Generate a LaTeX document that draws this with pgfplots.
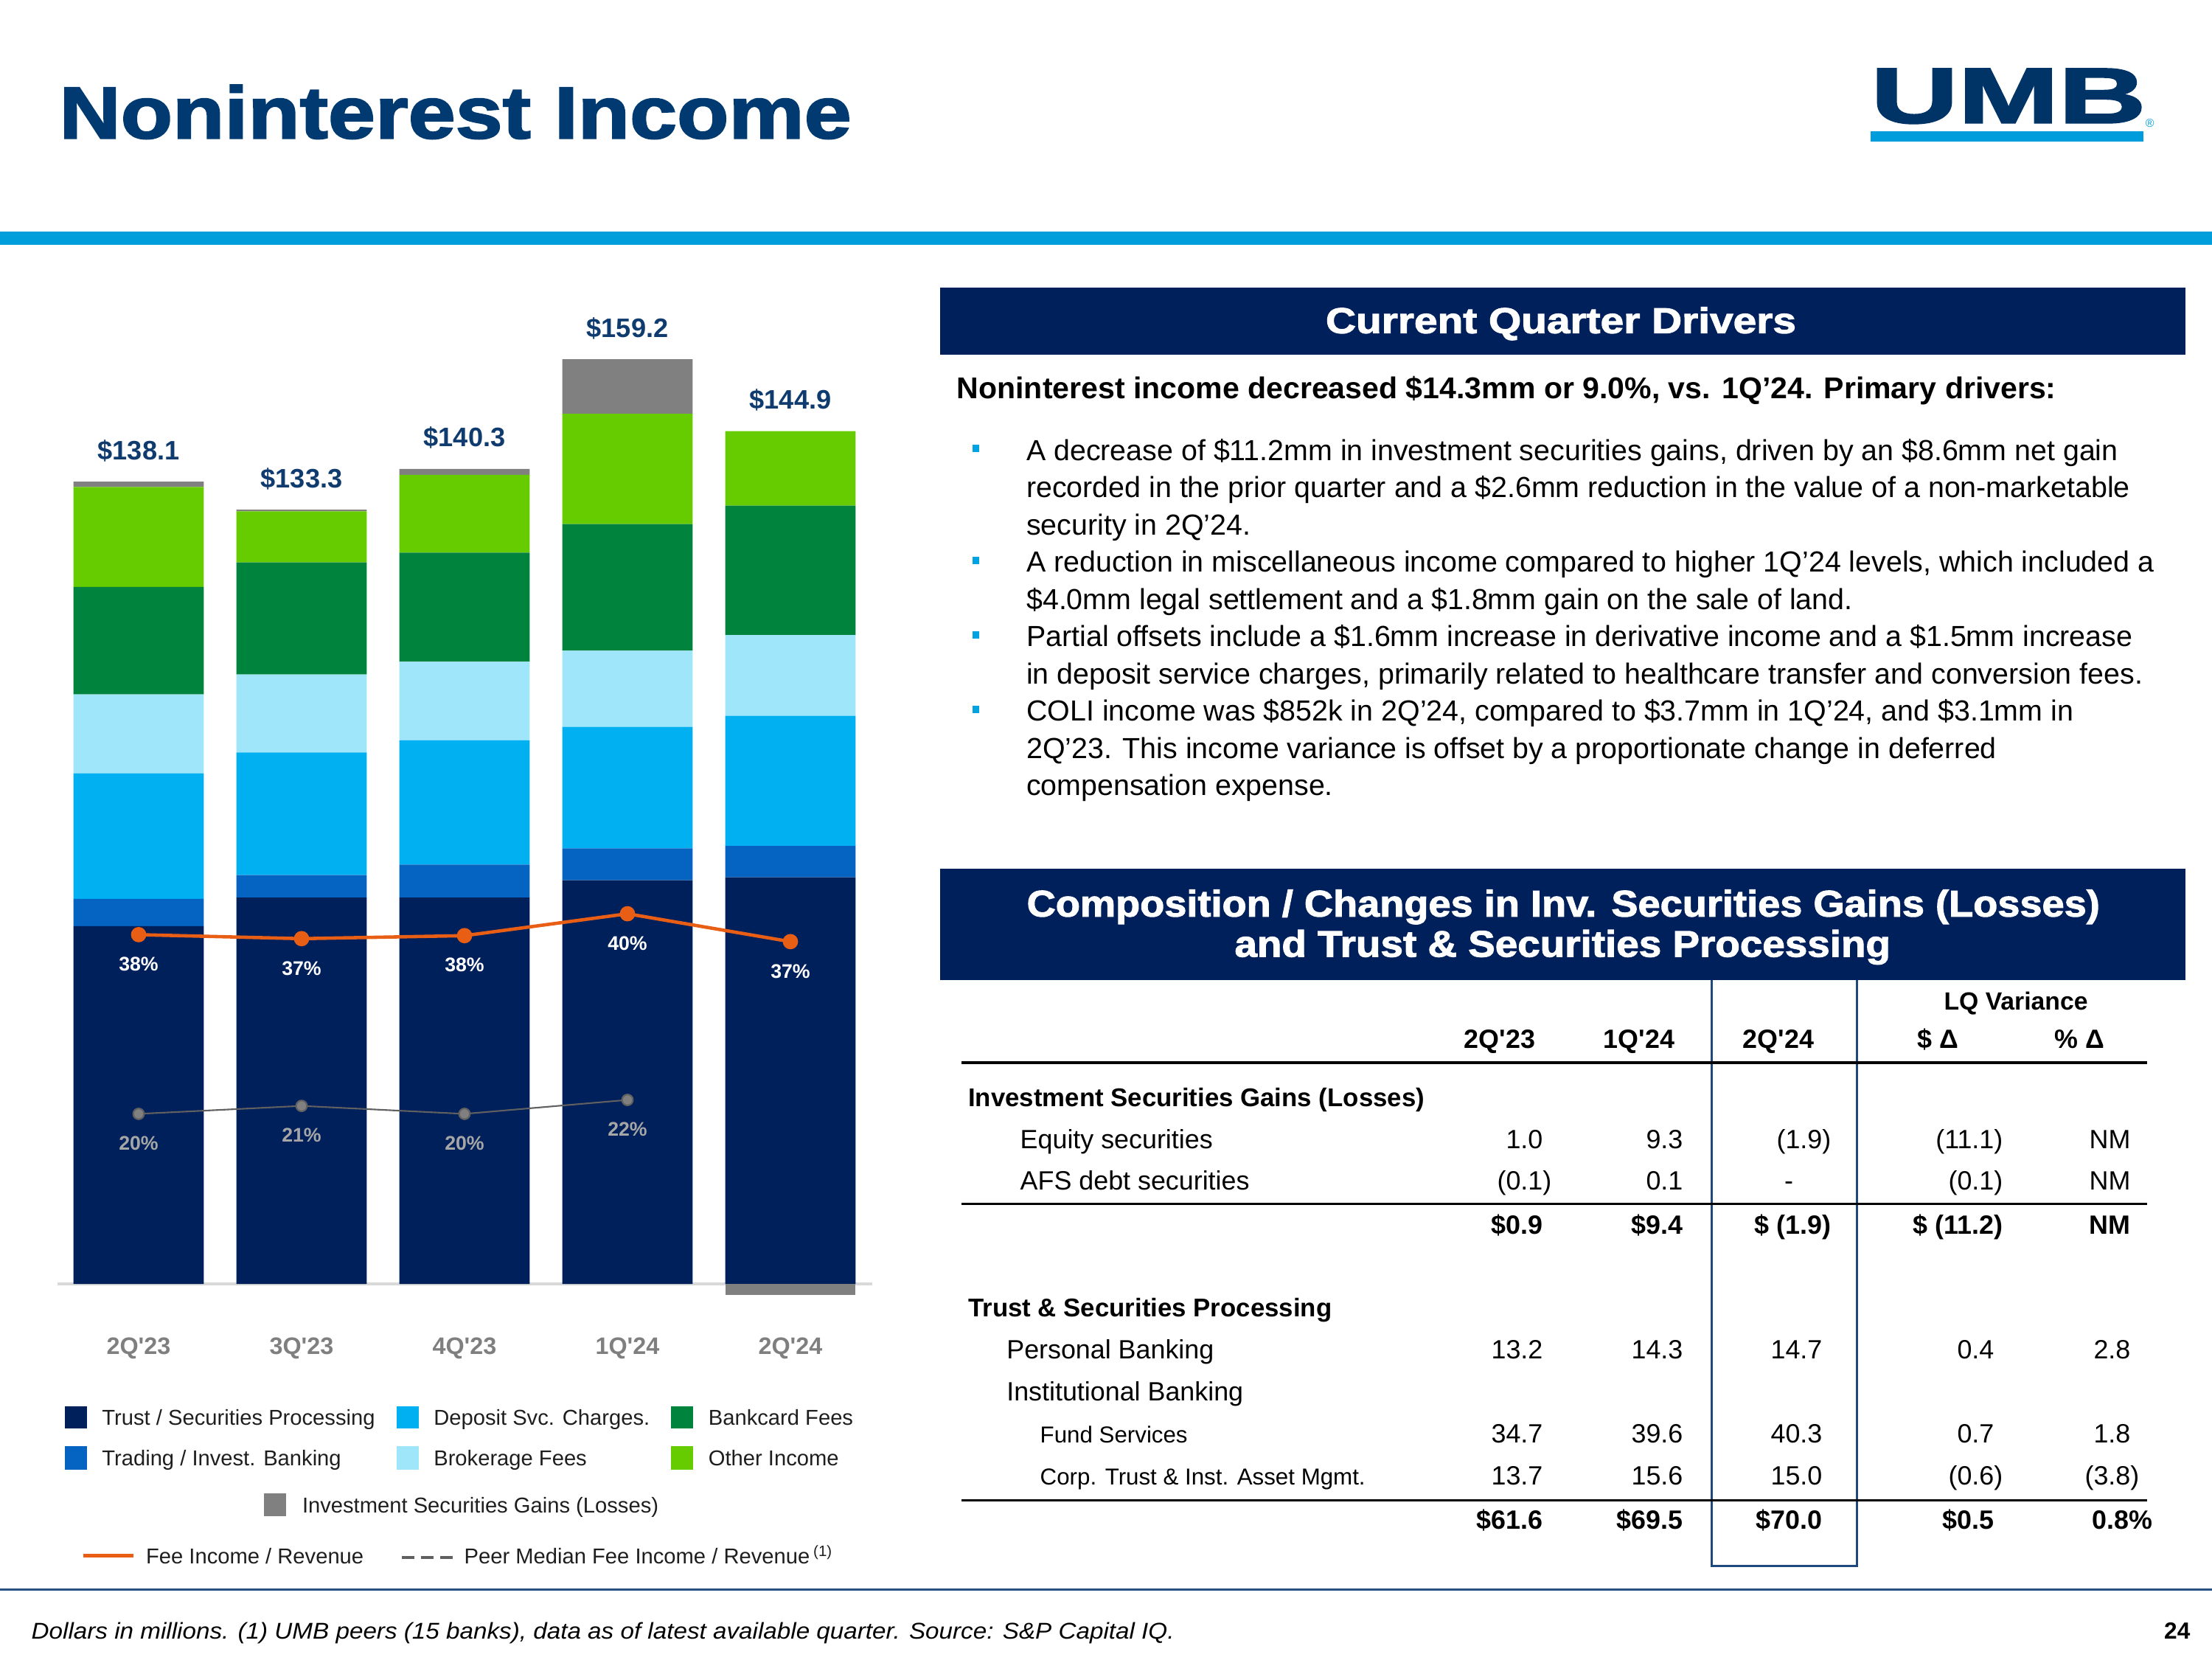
\documentclass[border=0pt]{standalone}
\usepackage{pgfplots}
\pgfplotsset{compat=1.18}
\usepackage{fontspec}
\setmainfont{Liberation Sans}
\newfontfamily\heavy{Liberation Sans Bold}[FakeBold=2]
\newcommand\q{\textquotesingle}
\definecolor{trustc}{RGB}{0,32,91}
\definecolor{tradc}{RGB}{5,99,193}
\definecolor{depc}{RGB}{0,176,240}
\definecolor{brokc}{RGB}{160,230,250}
\definecolor{bankc}{RGB}{0,132,61}
\definecolor{othc}{RGB}{102,204,0}
\definecolor{gainc}{RGB}{128,128,128}
\definecolor{feeor}{RGB}{232,94,20}
\definecolor{peerline}{RGB}{96,96,96}
\definecolor{peermark}{RGB}{128,128,128}
\definecolor{peerlbl}{RGB}{166,166,166}
\definecolor{catgray}{RGB}{127,127,127}
\definecolor{axgray}{RGB}{217,217,217}
\definecolor{lblnavy}{RGB}{15,59,110}
\definecolor{titlec}{RGB}{0,58,112}
\definecolor{hdrnavy}{RGB}{0,32,91}
\definecolor{toprule}{RGB}{0,158,219}
\definecolor{logonavy}{RGB}{0,51,102}
\definecolor{logobar}{RGB}{0,157,220}
\definecolor{bulletc}{RGB}{0,163,224}
\definecolor{boxline}{RGB}{31,73,125}
\definecolor{botline}{RGB}{40,80,130}
\definecolor{legtext}{RGB}{30,30,30}
\pgfplotsset{slide/.style={at={(7.75mm,-178.04mm)}, anchor=south west,
  width=110.5mm, height=137.85mm, scale only axis, xmin=-0.5, xmax=4.5, clip=false}}
\newcommand\tv[3]{\node[anchor=base east,inner sep=0] at (#1,#2) {#3};}
\newcommand\tl[3]{\node[anchor=base west,inner sep=0] at (#1,#2) {#3};}
\begin{document}
\begin{tikzpicture}
\path[use as bounding box] (0,0) rectangle (300mm,-225mm);
\begin{scope}[x=0.1mm,y=-0.1mm]
% ---------- header ----------
\fill[toprule] (0,314) rectangle (3000,331.5);
\node[anchor=base west,inner sep=0,text=titlec] at (80,187.5)
  {\resizebox{107.4mm}{\height}{\fontsize{28.4}{30}\heavy Noninterest Income}};
\node[anchor=south west,inner sep=0,text=logonavy] at (2536.7,168.3)
  {\resizebox{37.3mm}{7.33mm}{\heavy UMB}};
\fill[logobar] (2536.7,178.3) rectangle (2907,192.3);
\node[anchor=base west,inner sep=0,text=logobar] at (2909,172) {\fontsize{4.5}{5}\selectfont ®};
% ---------- drivers panel ----------
\fill[hdrnavy] (1275.4,390) rectangle (2964,480.7);
\node[anchor=base,inner sep=0,text=white] at (2117,451.7)
  {\resizebox{63.8mm}{\height}{\fontsize{13.9}{15}\heavy Current Quarter Drivers}};
\node[anchor=base west,inner sep=0] at (1297,540.7)
  {\resizebox{149.1mm}{\height}{\fontsize{11.6}{13}\selectfont\bfseries Noninterest income decreased \$14.3mm or 9.0\%, vs. 1Q’24. Primary drivers:}};
\begin{scope}[every node/.style={anchor=base west,inner sep=0,font=\fontsize{11.2}{13}\selectfont}]
\node at (1391.5,624.3) {A decrease of \$11.2mm in investment securities gains, driven by an \$8.6mm net gain};
\node at (1391.5,674.8) {recorded in the prior quarter and a \$2.6mm reduction in the value of a non-marketable};
\node at (1391.5,725.3) {security in 2Q’24.};
\node at (1391.5,775.8) {A reduction in miscellaneous income compared to higher 1Q’24 levels, which included a};
\node at (1391.5,826.3) {\$4.0mm legal settlement and a \$1.8mm gain on the sale of land.};
\node at (1391.5,876.8) {Partial offsets include a \$1.6mm increase in derivative income and a \$1.5mm increase};
\node at (1391.5,927.3) {in deposit service charges, primarily related to healthcare transfer and conversion fees.};
\node at (1391.5,977.8) {COLI income was \$852k in 2Q’24, compared to \$3.7mm in 1Q’24, and \$3.1mm in};
\node at (1391.5,1028.3) {2Q’23. This income variance is offset by a proportionate change in deferred};
\node at (1391.5,1078.8) {compensation expense.};
\end{scope}
\foreach \yy in {624.3,775.8,876.8,977.8}{\fill[bulletc] (1318.8,\yy-21) rectangle (1328,\yy-11);}
% ---------- table panel ----------
\draw[boxline,line width=0.3mm] (2321,1300) rectangle (2518.6,2123.8);
\fill[hdrnavy] (1275.4,1178.3) rectangle (2964,1329.3);
\node[anchor=base,inner sep=0,text=white] at (2120.2,1242.7)
  {\resizebox{145.5mm}{\height}{\fontsize{14.3}{15}\heavy Composition / Changes in Inv. Securities Gains (Losses)}};
\node[anchor=base,inner sep=0,text=white] at (2119.2,1297.3)
  {\resizebox{88.95mm}{\height}{\fontsize{14.3}{15}\heavy and Trust \& Securities Processing}};
\begin{scope}[every node/.style={font=\fontsize{10.2}{12}\selectfont\bfseries}]
\node[anchor=base,inner sep=0,font=\fontsize{9.6}{11}\selectfont\bfseries] at (2734,1369) {LQ Variance};
\node[anchor=base,inner sep=0] at (2034,1421) {2Q\q23};
\node[anchor=base,inner sep=0] at (2223,1421) {1Q\q24};
\node[anchor=base,inner sep=0] at (2412,1421) {2Q\q24};
\node[anchor=base,inner sep=0] at (2628,1421) {\$ Δ};
\node[anchor=base,inner sep=0] at (2820,1421) {\% Δ};
\end{scope}
\draw[black,line width=0.43mm] (1304,1441) -- (2912,1441);
\draw[black,line width=0.3mm] (1304,1632.8) -- (2912,1632.8);
\draw[black,line width=0.35mm] (1304,2034.4) -- (2912,2034.4);
\tl{1312.5}{1500.5}{\fontsize{9.9}{11}\selectfont\bfseries Investment Securities Gains (Losses)}
\tl{1312.5}{1785}{\fontsize{9.9}{11}\selectfont\bfseries Trust \& Securities Processing}
\begin{scope}[every node/.style={font=\fontsize{10.2}{12}\selectfont}]
\tl{1383}{1557}{Equity securities}
\tv{2093}{1557}{1.0}\tv{2283}{1557}{9.3}\tv{2472}{1557}{(1.9\rlap{)}}\tv{2705}{1557}{(11.1\rlap{)}}\tv{2890}{1557}{NM}
\tl{1383}{1613.5}{AFS debt securities}
\tv{2093}{1613.5}{(0.1\rlap{)}}\tv{2283}{1613.5}{0.1}\node[anchor=base,inner sep=0] at (2426,1613.5){-};\tv{2705}{1613.5}{(0.1\rlap{)}}\tv{2890}{1613.5}{NM}
\tl{1364.6}{1842}{Personal Banking}
\tv{2093}{1842}{13.2}\tv{2283}{1842}{14.3}\tv{2472}{1842}{14.7}\tv{2705}{1842}{0.4}\tv{2890}{1842}{2.8}
\tl{1364.6}{1899.5}{Institutional Banking}
\tv{2093}{1956}{34.7}\tv{2283}{1956}{39.6}\tv{2472}{1956}{40.3}\tv{2705}{1956}{0.7}\tv{2890}{1956}{1.8}
\tv{2093}{2013}{13.7}\tv{2283}{2013}{15.6}\tv{2472}{2013}{15.0}\tv{2705}{2013}{(0.6\rlap{)}}\tv{2890}{2013}{(3.8\rlap{)}}
\end{scope}
\tl{1410}{1956}{\fontsize{8.9}{10}\selectfont Fund Services}
\tl{1410}{2013}{\fontsize{8.9}{10}\selectfont Corp. Trust \& Inst. Asset Mgmt.}
\begin{scope}[every node/.style={font=\fontsize{10.2}{12}\selectfont\bfseries}]
\tv{2093}{1673}{\$0.9}\tv{2283}{1673}{\$9.4}\tv{2472}{1673}{\$ (1.9\rlap{)}}\tv{2705}{1673}{\$ (11.2\rlap{)}}\tv{2890}{1673}{NM}
\tv{2093}{2073}{\$61.6}\tv{2283}{2073}{\$69.5}\tv{2472}{2073}{\$70.0}\tv{2705}{2073}{\$0.5}\tv{2888}{2073}{0.8\rlap{\%}}
\end{scope}
% ---------- chart legend ----------
\begin{scope}[every node/.style={anchor=base west,inner sep=0,text=legtext,font=\fontsize{8.3}{10}\selectfont}]
\fill[trustc] (88,1907.3) rectangle (117.5,1937.3);   \node at (137.7,1932.7) {Trust / Securities Processing};
\fill[depc] (538,1907.3) rectangle (568,1937.3);      \node at (587.6,1932.7) {Deposit Svc. Charges.};
\fill[bankc] (909.7,1907.3) rectangle (940.3,1937.3); \node at (960.2,1932.7) {Bankcard Fees};
\fill[tradc] (88,1961) rectangle (117.5,1992.7);      \node at (137.7,1987.3) {Trading / Invest. Banking};
\fill[brokc] (538,1961) rectangle (568,1992.7);       \node at (587.6,1987.3) {Brokerage Fees};
\fill[othc] (909.7,1961) rectangle (940.3,1992.7);    \node at (960.2,1987.3) {Other Income};
\fill[gainc] (358,2025) rectangle (388,2056);         \node at (409.3,2051) {Investment Securities Gains (Losses)};
\draw[feeor,line width=0.47mm] (113,2109.5) -- (181.3,2109.5); \node at (197.4,2120) {Fee Income / Revenue};
\draw[peerline,line width=0.45mm,dash pattern=on 1.7mm off 0.9mm] (544.8,2112) -- (613.6,2112);
\node at (629,2120) {Peer Median Fee Income / Revenue\,\textsuperscript{(1)}};
\end{scope}
% ---------- footer ----------
\draw[botline,line width=0.3mm] (0,2155) -- (3000,2155);
\node[anchor=base west,inner sep=0] at (42,2222)
  {\resizebox{155mm}{\height}{\fontsize{8.8}{10}\selectfont\itshape Dollars in millions. (1) UMB peers (15 banks), data as of latest available quarter. Source: S\&P Capital IQ.}};
\node[anchor=base east,inner sep=0] at (2971,2222) {\fontsize{9}{10}\selectfont\bfseries 24};
\end{scope}
% ---------- chart ----------
\begin{axis}[slide, ybar stacked, bar width=0.8, ymin=-5, ymax=170,
  axis line style={draw=none}, ytick=\empty, xtick={0,1,2,3,4},
  xticklabels={2Q\q23,3Q\q23,4Q\q23,1Q\q24,2Q\q24}, major tick length=0pt,
  xticklabel style={anchor=center, yshift=-4.79mm, font=\fontsize{9.2}{10}\selectfont\bfseries, text=catgray}]
\addplot[fill=trustc, draw=none] coordinates {(0,61.6) (1,66.5) (2,66.5) (3,69.5) (4,70.0)};
\addplot[fill=tradc, draw=none] coordinates {(0,4.7) (1,3.9) (2,5.7) (3,5.5) (4,5.4)};
\addplot[fill=depc, draw=none] coordinates {(0,21.6) (1,21.1) (2,21.4) (3,20.9) (4,22.4)};
\addplot[fill=brokc, draw=none] coordinates {(0,13.6) (1,13.4) (2,13.5) (3,13.1) (4,13.9)};
\addplot[fill=bankc, draw=none] coordinates {(0,18.5) (1,19.3) (2,18.8) (3,21.8) (4,22.3)};
\addplot[fill=othc, draw=none] coordinates {(0,17.2) (1,8.8) (2,13.4) (3,19.0) (4,12.8)};
\addplot[fill=gainc, draw=none] coordinates {(0,0.9) (1,0.3) (2,1.0) (3,9.4) (4,0)};
\draw[axgray, line width=0.4mm] (axis cs:-0.5,0) -- (axis cs:4.5,0);
\end{axis}
\begin{axis}[slide, hide axis, ybar, bar width=0.8, ymin=-5, ymax=170]
\addplot[fill=gainc, draw=none] coordinates {(4,-1.9)};
\end{axis}
\begin{axis}[slide, hide axis, ymin=0, ymax=102.11]
\addplot[color=peerline, line width=0.6pt, mark=*, mark size=2.1pt,
  mark options={fill=peermark, draw=none},
  nodes near coords={\pgfplotspointmeta\%}, point meta=explicit symbolic,
  nodes near coords style={anchor=center, yshift=-4mm, text=peerlbl, font=\fontsize{7.6}{9}\selectfont\bfseries}]
  table[meta=lab] {
x y lab
0 20.0 20
1 20.8 21
2 20.0 20
3 21.4 22
};
\addplot[color=feeor, line width=1.3pt, mark=*, mark size=2.3pt,
  mark options={fill=feeor, draw=none},
  nodes near coords={\pgfplotspointmeta\%}, point meta=explicit symbolic,
  nodes near coords style={anchor=center, yshift=-4mm, text=white, font=\fontsize{7.6}{9}\selectfont\bfseries}]
  table[meta=lab] {
x y lab
0 38.0 38
1 37.6 37
2 37.9 38
3 40.1 40
4 37.3 37
};
\end{axis}
\begin{axis}[slide, hide axis, ymin=-5, ymax=170]
\addplot[draw=none, mark=none, nodes near coords={\$\pgfplotspointmeta}, point meta=explicit symbolic,
  nodes near coords style={anchor=center, yshift=4.2mm, text=lblnavy, font=\fontsize{10.3}{12}\selectfont\bfseries}]
  table[meta=lab] {
x y lab
0 138.1 138.1
1 133.3 133.3
2 140.3 140.3
3 159.2 159.2
4 146.8 144.9
};
\end{axis}
\end{tikzpicture}
\end{document}
